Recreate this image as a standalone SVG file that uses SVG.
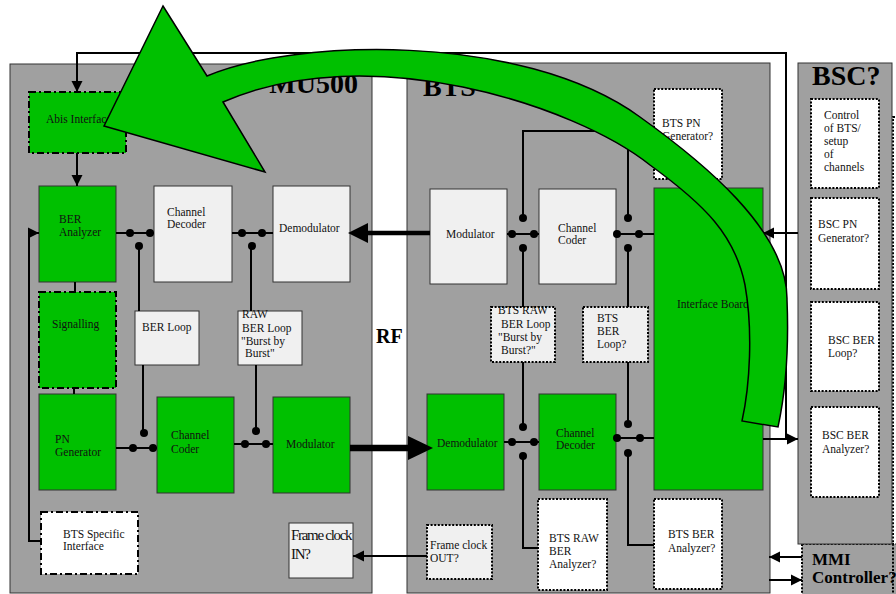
<svg xmlns="http://www.w3.org/2000/svg" width="896" height="594" viewBox="0 0 896 594">
<defs>
<marker id="ah" markerUnits="userSpaceOnUse" markerWidth="12" markerHeight="12" refX="11" refY="6" orient="auto">
<path d="M0,0.5 L11,6 L0,11.5 z" fill="#000"/>
</marker>
</defs>
<style>
text{font-family:"Liberation Serif","Times New Roman",serif;font-size:11.5px;fill:#111}
.ttl{font-weight:bold;font-size:28px;fill:#000}
.panel{fill:#a0a0a0;stroke:#333;stroke-width:1}
.g{fill:#00c000;stroke:#333;stroke-width:1}
.lg{fill:#f0f0f0;stroke:#333;stroke-width:1}
.dd{stroke:#000;stroke-width:2;stroke-dasharray:7 3 2 3}
.dot{stroke:#000;stroke-width:2;stroke-dasharray:2 1.6}
.w{fill:#fff}
.lgf{fill:#f0f0f0}
.ln{fill:none;stroke:#000;stroke-width:2}
.ar{fill:none;stroke:#000;stroke-width:2;marker-end:url(#ah)}
.sw{fill:#000}
</style>
<rect width="896" height="594" fill="#fff"/>

<g id="mu500-panel"><rect class="panel" x="10" y="64" width="362" height="529"/><text class="ttl" x="358" y="93" text-anchor="end">MU500</text></g>
<g id="bts-panel"><rect class="panel" x="407" y="63" width="363" height="530"/><text class="ttl" x="423" y="96">BTS</text></g>
<g id="rf-label"><text x="376" y="343" style="font-weight:bold;font-size:20px;fill:#000">RF</text></g>
<g id="mmi-controller"><rect x="802" y="544" width="120" height="70" fill="#a0a0a0" class="dot"/><text x="812" y="565" style="font-weight:bold;font-size:17px;fill:#000">MMI</text><text x="812" y="583" style="font-weight:bold;font-size:17px;fill:#000">Controller?</text></g>
<g id="bsc-extra"><rect x="893" y="117" width="40" height="520" fill="none" class="dot"/></g>
<g id="bsc-panel"><rect class="panel" x="798" y="63" width="94" height="481"/><text class="ttl" x="812" y="85">BSC?</text></g>

<!-- MU500 nodes -->
<g id="abis-interface"><rect class="g dd" x="29" y="92" width="97" height="61"/><text x="46" y="123">Abis Interface</text></g>
<g id="ber-analyzer"><rect class="g" x="39" y="186" width="77" height="96"/><text x="59" y="223">BER</text><text x="59" y="236">Analyzer</text></g>
<g id="mu-channel-decoder"><rect class="lg" x="154" y="186" width="78" height="96"/><text x="167" y="216">Channel</text><text x="167" y="228">Decoder</text></g>
<g id="mu-demodulator"><rect class="lg" x="273" y="186" width="77" height="96"/><text x="279" y="232">Demodulator</text></g>
<g id="signalling"><rect class="g dd" x="39" y="292" width="77" height="96"/><text x="52" y="328">Signalling</text></g>
<g id="ber-loop"><rect class="lg" x="135" y="311" width="64" height="54"/><text x="142" y="331">BER Loop</text></g>
<g id="raw-ber-loop"><rect class="lg" x="238" y="311" width="64" height="54"/><text x="242" y="318">RAW</text><text x="242" y="332">BER Loop</text><text x="241" y="345">"Burst by</text><text x="245" y="357">Burst"</text></g>
<g id="pn-generator"><rect class="g" x="39" y="394" width="77" height="96"/><text x="55" y="443">PN</text><text x="55" y="456">Generator</text></g>
<g id="mu-channel-coder"><rect class="g" x="157" y="397" width="77" height="96"/><text x="171" y="439">Channel</text><text x="171" y="453">Coder</text></g>
<g id="mu-modulator"><rect class="g" x="273" y="397" width="77" height="96"/><text x="286" y="448">Modulator</text></g>
<g id="bts-specific-interface"><rect class="w dd" x="41" y="512" width="97" height="62"/><text x="63" y="538">BTS Specific</text><text x="63" y="550">Interface</text></g>
<g id="frame-clock-in"><rect class="lg" x="289" y="523" width="64" height="55"/><text x="291" y="540" style="font-size:15px;letter-spacing:-1.3px">Frame clock</text><text x="291" y="559" style="font-size:15px;letter-spacing:-1.3px">IN?</text></g>

<!-- BTS nodes -->
<g id="bts-pn-generator"><rect class="w dot" x="654" y="89" width="68" height="90"/><text x="662" y="127">BTS PN</text><text x="662" y="140">Generator?</text></g>
<g id="bts-modulator"><rect class="lg" x="430" y="189" width="77" height="95"/><text x="446" y="238">Modulator</text></g>
<g id="bts-channel-coder"><rect class="lg" x="539" y="189" width="77" height="95"/><text x="558" y="232">Channel</text><text x="558" y="244">Coder</text></g>
<g id="interface-board"><rect class="g" x="654" y="188" width="109" height="302"/><text x="677" y="308">Interface Board</text></g>
<g id="bts-raw-ber-loop"><rect class="lgf dot" x="491" y="307" width="64" height="55"/><text x="498" y="314">BTS RAW</text><text x="501" y="328">BER Loop</text><text x="498" y="341">"Burst by</text><text x="501" y="354">Burst?"</text></g>
<g id="bts-ber-loop"><rect class="lgf dot" x="583" y="307" width="65" height="55"/><text x="597" y="322">BTS</text><text x="597" y="335">BER</text><text x="597" y="348">Loop?</text></g>
<g id="bts-demodulator"><rect class="g" x="427" y="394" width="77" height="96"/><text x="437" y="447">Demodulator</text></g>
<g id="bts-channel-decoder"><rect class="g" x="539" y="394" width="77" height="96"/><text x="556" y="437">Channel</text><text x="556" y="449">Decoder</text></g>
<g id="bts-raw-ber-analyzer"><rect class="w dot" x="538" y="499" width="69" height="91"/><text x="549" y="542">BTS RAW</text><text x="549" y="555">BER</text><text x="549" y="568">Analyzer?</text></g>
<g id="bts-ber-analyzer"><rect class="w dot" x="654" y="499" width="68" height="90"/><text x="668" y="538">BTS BER</text><text x="668" y="552">Analyzer?</text></g>
<g id="frame-clock-out"><rect class="lgf dot" x="427" y="525" width="65" height="54"/><text x="430" y="549">Frame clock</text><text x="430" y="562">OUT?</text></g>

<!-- BSC nodes -->
<g id="bsc-control"><rect class="w dot" x="811" y="99" width="68" height="89"/><text x="824" y="119">Control</text><text x="824" y="132">of BTS/</text><text x="824" y="145">setup</text><text x="824" y="158">of</text><text x="824" y="171">channels</text></g>
<g id="bsc-pn-generator"><rect class="w dot" x="811" y="198" width="68" height="91"/><text x="818" y="228">BSC PN</text><text x="818" y="242">Generator?</text></g>
<g id="bsc-ber-loop"><rect class="w dot" x="811" y="302" width="68" height="89"/><text x="828" y="344">BSC BER</text><text x="828" y="357">Loop?</text></g>
<g id="bsc-ber-analyzer"><rect class="w dot" x="811" y="407" width="68" height="90"/><text x="822" y="439">BSC BER</text><text x="822" y="453">Analyzer?</text></g>

<g id="connectors">
<polyline class="ar" points="786,439 786,53 77,53 77,92"/>
<line class="ar" x1="763" y1="439" x2="798" y2="439"/>
<line class="ar" x1="77" y1="153" x2="77" y2="186"/>
<line class="ln" x1="75" y1="282" x2="75" y2="292"/>
<line class="ln" x1="74" y1="388" x2="74" y2="394"/>
<polyline class="ar" points="41,541 29,541 29,233 39,233"/>
<line class="ln" x1="116" y1="233" x2="154" y2="233"/>
<circle class="sw" cx="130" cy="233" r="4"/><circle class="sw" cx="150" cy="233" r="4"/><circle class="sw" cx="139" cy="246" r="4"/>
<line class="ln" x1="139" y1="246" x2="139" y2="311"/>
<line class="ln" x1="232" y1="233" x2="273" y2="233"/>
<circle class="sw" cx="242" cy="233" r="4"/><circle class="sw" cx="262" cy="233" r="4"/><circle class="sw" cx="252" cy="246" r="4"/>
<line class="ln" x1="251" y1="246" x2="251" y2="311"/>
<line class="ln" x1="143" y1="365" x2="143" y2="433"/>
<line class="ln" x1="116" y1="448" x2="157" y2="448"/>
<circle class="sw" cx="133" cy="448" r="4"/><circle class="sw" cx="153" cy="448" r="4"/><circle class="sw" cx="144" cy="433" r="4"/>
<line class="ln" x1="256" y1="365" x2="256" y2="431"/>
<line class="ln" x1="234" y1="444" x2="273" y2="444"/>
<circle class="sw" cx="245" cy="444" r="4"/><circle class="sw" cx="266" cy="444" r="4"/><circle class="sw" cx="256" cy="431" r="4"/>
<line x1="430" y1="233" x2="366" y2="233" stroke="#000" stroke-width="4.5"/>
<path d="M348,233 L368,223 L368,243 z" fill="#000"/>
<line x1="350" y1="448" x2="410" y2="448" stroke="#000" stroke-width="6.5"/>
<path d="M433,448 L408,436 L408,460 z" fill="#000"/>
<line class="ln" x1="507" y1="234" x2="539" y2="234"/>
<circle class="sw" cx="512" cy="234" r="4"/><circle class="sw" cx="534" cy="234" r="4"/><circle class="sw" cx="523" cy="218" r="4"/><circle class="sw" cx="523" cy="248" r="4"/>
<polyline class="ln" points="523,218 523,131 654,131"/>
<line class="ln" x1="523" y1="248" x2="523" y2="307"/>
<line class="ln" x1="616" y1="234" x2="654" y2="234"/>
<circle class="sw" cx="617" cy="234" r="4"/><circle class="sw" cx="639" cy="234" r="4"/><circle class="sw" cx="628" cy="218" r="4"/><circle class="sw" cx="628" cy="248" r="4"/>
<line class="ln" x1="628" y1="218" x2="628" y2="131"/>
<line class="ln" x1="628" y1="248" x2="628" y2="307"/>
<line class="ar" x1="798" y1="233" x2="763" y2="233"/>
<line class="ln" x1="523" y1="362" x2="523" y2="427"/>
<line class="ln" x1="504" y1="442" x2="539" y2="442"/>
<circle class="sw" cx="512" cy="442" r="4"/><circle class="sw" cx="534" cy="442" r="4"/><circle class="sw" cx="523" cy="427" r="4"/><circle class="sw" cx="523" cy="456" r="4"/>
<polyline class="ln" points="523,456 523,548 538,548"/>
<line class="ln" x1="628" y1="362" x2="628" y2="424"/>
<line class="ln" x1="616" y1="438" x2="654" y2="438"/>
<circle class="sw" cx="617" cy="438" r="4"/><circle class="sw" cx="640" cy="438" r="4"/><circle class="sw" cx="628" cy="424" r="4"/><circle class="sw" cx="628" cy="453" r="4"/>
<polyline class="ln" points="628,453 628,545 654,545"/>
<line class="ar" x1="427" y1="556" x2="353" y2="556"/>
<line class="ar" x1="802" y1="557" x2="769" y2="557"/>
<line class="ar" x1="769" y1="580" x2="802" y2="580"/>
</g>

<g id="big-arrow">
<path d="M163,6 L207,76 C290,40 520,30 640,117 C700,160 788,230 787,300 C789,350 786,390 778,427 L742,421 C750,385 753,330 745,285 C735,235 705,205 650,165 C575,105 368,38 223,102 L265,172 L104,126 Z" fill="#00c000" stroke="#000" stroke-width="1.5" stroke-linejoin="miter"/>
</g>
</svg>
